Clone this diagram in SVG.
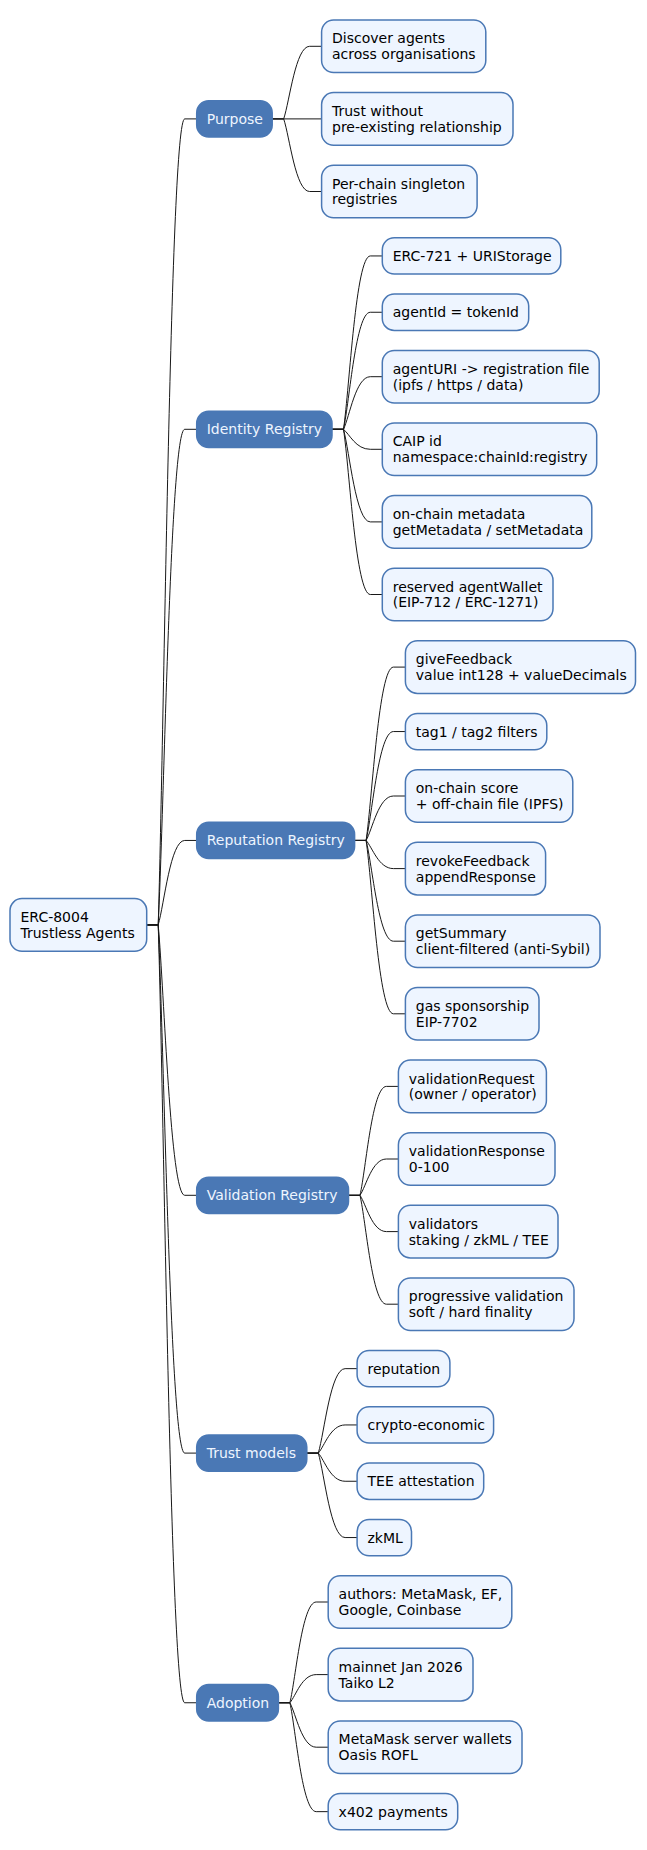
<svg xmlns="http://www.w3.org/2000/svg" width="647" height="1850" viewBox="0 0 647 1850">
<style>
text{font-family:"DejaVu Sans","Liberation Sans",sans-serif;font-size:14px}
.leaf rect,.root rect{fill:#eef5ff;stroke:#4a78b5;stroke-width:1.5}
.leaf text,.root text{fill:#000}
.l1 rect{fill:#4a78b5;stroke:#4a78b5;stroke-width:1.5}
.l1 text{fill:#eef5ff}
#connectors path{fill:none;stroke:#181818;stroke-width:1}
</style>
<rect width="647" height="1850" fill="#fff"/>
<g id="connectors">
<path d="M146.7,924.9 H158.2 C164.3,723.4 170.4,118.9 184.7,118.9 H196.7"/>
<path d="M146.7,924.9 H158.2 C164.3,801 170.4,429.3 184.7,429.3 H196.7"/>
<path d="M146.7,924.9 H158.2 C164.3,903.8 170.4,840.45 184.7,840.45 H196.7"/>
<path d="M146.7,924.9 H158.2 C164.3,992.5 170.4,1195.3 184.7,1195.3 H196.7"/>
<path d="M146.7,924.9 H158.2 C164.3,1056.95 170.4,1453.1 184.7,1453.1 H196.7"/>
<path d="M146.7,924.9 H158.2 C164.3,1119.4 170.4,1702.75 184.7,1702.75 H196.7"/>
<path d="M272.2,118.9 H283.7 C289.7,100.75 295.6,46.3 309.6,46.3 H321.6"/>
<path d="M272.2,118.9 H321.6"/>
<path d="M272.2,118.9 H283.7 C289.7,137.05 295.6,191.5 309.6,191.5 H321.6"/>
<path d="M332,429.3 H343.5 C349.7,385.96 355.8,255.95 370.3,255.95 H382.3"/>
<path d="M332,429.3 H343.5 C349.7,400.04 355.8,312.25 370.3,312.25 H382.3"/>
<path d="M332,429.3 H343.5 C349.7,416.15 355.8,376.7 370.3,376.7 H382.3"/>
<path d="M332,429.3 H343.5 C349.7,434.3 355.8,449.3 370.3,449.3 H382.3"/>
<path d="M332,429.3 H343.5 C349.7,452.45 355.8,521.9 370.3,521.9 H382.3"/>
<path d="M332,429.3 H343.5 C349.7,470.6 355.8,594.5 370.3,594.5 H382.3"/>
<path d="M354.6,840.45 H366.1 C372.4,797.1 378.7,667.1 393.4,667.1 H405.4"/>
<path d="M354.6,840.45 H366.1 C372.4,813.2 378.7,731.55 393.4,731.55 H405.4"/>
<path d="M354.6,840.45 H366.1 C372.4,829.3 378.7,796 393.4,796 H405.4"/>
<path d="M354.6,840.45 H366.1 C372.4,847.5 378.7,868.6 393.4,868.6 H405.4"/>
<path d="M354.6,840.45 H366.1 C372.4,865.6 378.7,941.2 393.4,941.2 H405.4"/>
<path d="M354.6,840.45 H366.1 C372.4,883.8 378.7,1013.8 393.4,1013.8 H405.4"/>
<path d="M348.5,1195.3 H360 C366.1,1168.1 372.1,1086.4 386.4,1086.4 H398.4"/>
<path d="M348.5,1195.3 H360 C366.1,1186.2 372.1,1159 386.4,1159 H398.4"/>
<path d="M348.5,1195.3 H360 C366.1,1204.4 372.1,1231.6 386.4,1231.6 H398.4"/>
<path d="M348.5,1195.3 H360 C366.1,1222.5 372.1,1304.2 386.4,1304.2 H398.4"/>
<path d="M306.8,1453.1 H318.3 C324.5,1432 330.6,1368.65 345.1,1368.65 H357.1"/>
<path d="M306.8,1453.1 H318.3 C324.5,1446.1 330.6,1424.95 345.1,1424.95 H357.1"/>
<path d="M306.8,1453.1 H318.3 C324.5,1460.1 330.6,1481.25 345.1,1481.25 H357.1"/>
<path d="M306.8,1453.1 H318.3 C324.5,1474.2 330.6,1537.55 345.1,1537.55 H357.1"/>
<path d="M278.4,1702.75 H289.9 C295.9,1677.6 302,1602 316.2,1602 H328.2"/>
<path d="M278.4,1702.75 H289.9 C295.9,1695.7 302,1674.6 316.2,1674.6 H328.2"/>
<path d="M278.4,1702.75 H289.9 C295.9,1713.9 302,1747.2 316.2,1747.2 H328.2"/>
<path d="M278.4,1702.75 H289.9 C295.9,1730 302,1811.65 316.2,1811.65 H328.2"/>
</g>
<g id="root" class="root"><rect x="10" y="898.6" width="136.7" height="52.6" rx="12"/><text x="20.5" y="922"><tspan>ERC-8004</tspan><tspan x="20.5" y="937.8">Trustless Agents</tspan></text></g>
<g id="purpose" class="l1"><rect x="196.7" y="100.75" width="75.5" height="36.3" rx="12"/><text x="206.7" y="123.9">Purpose</text></g>
<g id="identity" class="l1"><rect x="196.7" y="411.15" width="135.3" height="36.3" rx="12"/><text x="206.7" y="434.3">Identity Registry</text></g>
<g id="reputation" class="l1"><rect x="196.7" y="822.3" width="157.9" height="36.3" rx="12"/><text x="206.7" y="845.45">Reputation Registry</text></g>
<g id="validation" class="l1"><rect x="196.7" y="1177.15" width="151.8" height="36.3" rx="12"/><text x="206.7" y="1200.3">Validation Registry</text></g>
<g id="trust-models" class="l1"><rect x="196.7" y="1434.95" width="110.1" height="36.3" rx="12"/><text x="206.7" y="1458.1">Trust models</text></g>
<g id="adoption" class="l1"><rect x="196.7" y="1684.6" width="81.7" height="36.3" rx="12"/><text x="206.7" y="1707.75">Adoption</text></g>
<g id="p1" class="leaf"><rect x="321.6" y="20" width="164.2" height="52.6" rx="12"/><text x="332" y="43.4">Discover agents<tspan x="332" y="59.2">across organisations</tspan></text></g>
<g id="p2" class="leaf"><rect x="321.6" y="92.6" width="191.4" height="52.6" rx="12"/><text x="332" y="116">Trust without<tspan x="332" y="131.8">pre-existing relationship</tspan></text></g>
<g id="p3" class="leaf"><rect x="321.6" y="165.2" width="155.5" height="52.6" rx="12"/><text x="332" y="188.6">Per-chain singleton<tspan x="332" y="204.4">registries</tspan></text></g>
<g id="i1" class="leaf"><rect x="382.3" y="237.8" width="178.5" height="36.3" rx="12"/><text x="392.7" y="260.95">ERC-721 + URIStorage</text></g>
<g id="i2" class="leaf"><rect x="382.3" y="294.1" width="146.4" height="36.3" rx="12"/><text x="392.7" y="317.25">agentId = tokenId</text></g>
<g id="i3" class="leaf"><rect x="382.3" y="350.4" width="216.9" height="52.6" rx="12"/><text x="392.7" y="373.8">agentURI -&gt; registration file<tspan x="392.7" y="389.6">(ipfs / https / data)</tspan></text></g>
<g id="i4" class="leaf"><rect x="382.3" y="423" width="214.4" height="52.6" rx="12"/><text x="392.7" y="446.4">CAIP id<tspan x="392.7" y="462.2">namespace:chainId:registry</tspan></text></g>
<g id="i5" class="leaf"><rect x="382.3" y="495.6" width="209.5" height="52.6" rx="12"/><text x="392.7" y="519">on-chain metadata<tspan x="392.7" y="534.8">getMetadata / setMetadata</tspan></text></g>
<g id="i6" class="leaf"><rect x="382.3" y="568.2" width="170.7" height="52.6" rx="12"/><text x="392.7" y="591.6">reserved agentWallet<tspan x="392.7" y="607.4">(EIP-712 / ERC-1271)</tspan></text></g>
<g id="r1" class="leaf"><rect x="405.4" y="640.8" width="230.1" height="52.6" rx="12"/><text x="415.8" y="664.2">giveFeedback<tspan x="415.8" y="680">value int128 + valueDecimals</tspan></text></g>
<g id="r2" class="leaf"><rect x="405.4" y="713.4" width="141.4" height="36.3" rx="12"/><text x="415.8" y="736.55">tag1 / tag2 filters</text></g>
<g id="r3" class="leaf"><rect x="405.4" y="769.7" width="167.4" height="52.6" rx="12"/><text x="415.8" y="793.1">on-chain score<tspan x="415.8" y="808.9">+ off-chain file (IPFS)</tspan></text></g>
<g id="r4" class="leaf"><rect x="405.4" y="842.3" width="140.2" height="52.6" rx="12"/><text x="415.8" y="865.7">revokeFeedback<tspan x="415.8" y="881.5">appendResponse</tspan></text></g>
<g id="r5" class="leaf"><rect x="405.4" y="914.9" width="194.6" height="52.6" rx="12"/><text x="415.8" y="938.3">getSummary<tspan x="415.8" y="954.1">client-filtered (anti-Sybil)</tspan></text></g>
<g id="r6" class="leaf"><rect x="405.4" y="987.5" width="133.6" height="52.6" rx="12"/><text x="415.8" y="1010.9">gas sponsorship<tspan x="415.8" y="1026.7">EIP-7702</tspan></text></g>
<g id="v1" class="leaf"><rect x="398.4" y="1060.1" width="148" height="52.6" rx="12"/><text x="408.8" y="1083.5">validationRequest<tspan x="408.8" y="1099.3">(owner / operator)</tspan></text></g>
<g id="v2" class="leaf"><rect x="398.4" y="1132.7" width="156.6" height="52.6" rx="12"/><text x="408.8" y="1156.1">validationResponse<tspan x="408.8" y="1171.9">0-100</tspan></text></g>
<g id="v3" class="leaf"><rect x="398.4" y="1205.3" width="159.6" height="52.6" rx="12"/><text x="408.8" y="1228.7">validators<tspan x="408.8" y="1244.5">staking / zkML / TEE</tspan></text></g>
<g id="v4" class="leaf"><rect x="398.4" y="1277.9" width="175.6" height="52.6" rx="12"/><text x="408.8" y="1301.3">progressive validation<tspan x="408.8" y="1317.1">soft / hard finality</tspan></text></g>
<g id="t1" class="leaf"><rect x="357.1" y="1350.5" width="92.8" height="36.3" rx="12"/><text x="367.5" y="1373.65">reputation</text></g>
<g id="t2" class="leaf"><rect x="357.1" y="1406.8" width="136.5" height="36.3" rx="12"/><text x="367.5" y="1429.95">crypto-economic</text></g>
<g id="t3" class="leaf"><rect x="357.1" y="1463.1" width="126.6" height="36.3" rx="12"/><text x="367.5" y="1486.25">TEE attestation</text></g>
<g id="t4" class="leaf"><rect x="357.1" y="1519.4" width="54.4" height="36.3" rx="12"/><text x="367.5" y="1542.55">zkML</text></g>
<g id="a1" class="leaf"><rect x="328.2" y="1575.7" width="183.6" height="52.6" rx="12"/><text x="338.6" y="1599.1">authors: MetaMask, EF,<tspan x="338.6" y="1614.9">Google, Coinbase</tspan></text></g>
<g id="a2" class="leaf"><rect x="328.2" y="1648.3" width="144.8" height="52.6" rx="12"/><text x="338.6" y="1671.7">mainnet Jan 2026<tspan x="338.6" y="1687.5">Taiko L2</tspan></text></g>
<g id="a3" class="leaf"><rect x="328.2" y="1720.9" width="193.8" height="52.6" rx="12"/><text x="338.6" y="1744.3">MetaMask server wallets<tspan x="338.6" y="1760.1">Oasis ROFL</tspan></text></g>
<g id="a4" class="leaf"><rect x="328.2" y="1793.5" width="129.5" height="36.3" rx="12"/><text x="338.6" y="1816.65">x402 payments</text></g>
</svg>
